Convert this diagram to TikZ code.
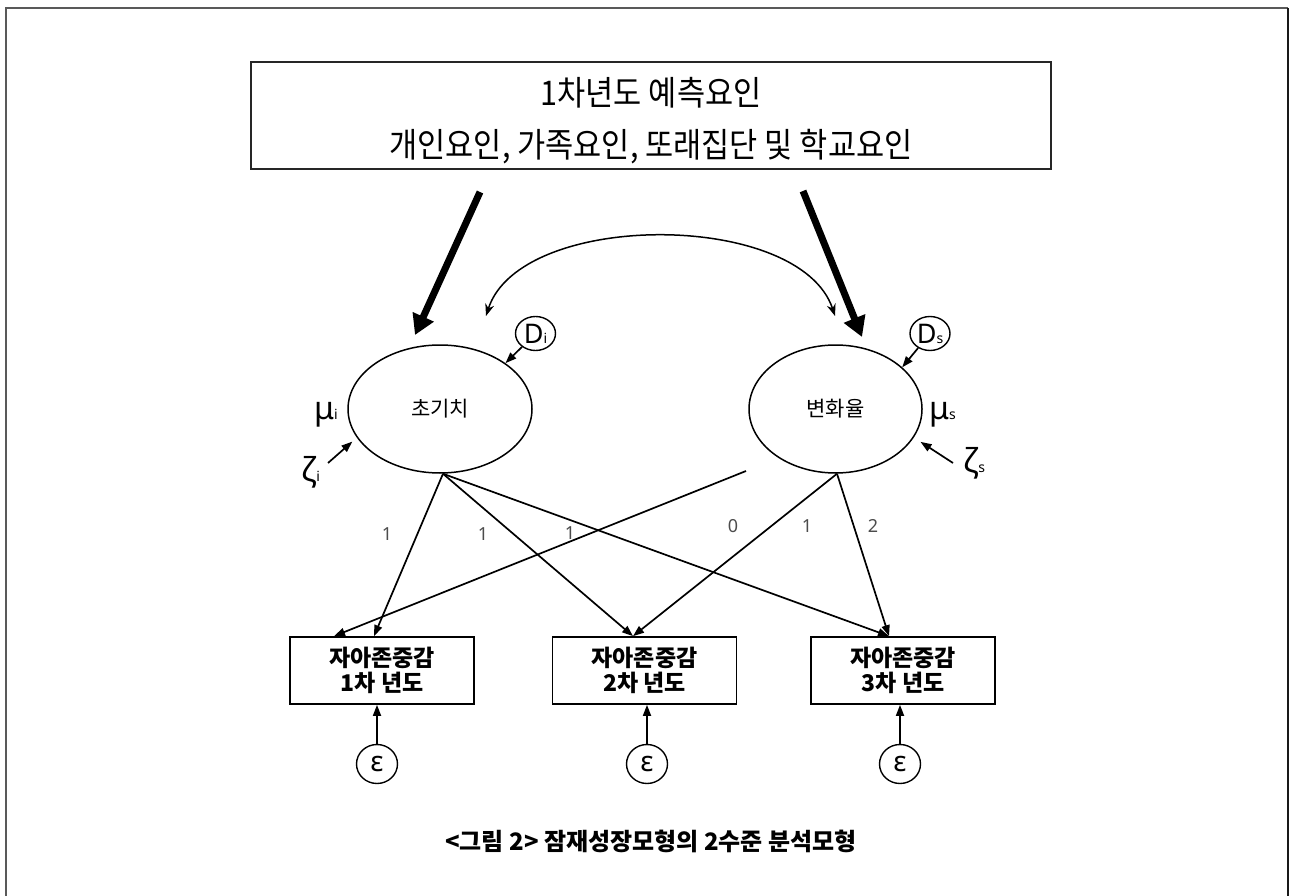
\documentclass[tikz,border=0pt]{standalone}
\usepackage{fontspec}
\setmainfont{Noto Sans CJK KR}
\newfontfamily\grk{Noto Sans}
\newfontfamily\topfont[FakeStretch=0.9]{Noto Sans CJK KR}
\usetikzlibrary{arrows.meta,shapes.geometric}
\begin{document}
\begin{tikzpicture}[x=1pt,y=-1pt,
  conn/.style={line width=1.7pt,-{Triangle[length=11pt,width=8pt]}},
  bigarr/.style={line width=7pt,-{Triangle[length=20pt,width=22pt]}},
  box/.style={draw,line width=1.7pt,minimum width=184pt,minimum height=67pt,inner sep=0pt,align=center,font=\bfseries\fontsize{23}{25}\selectfont},
  latent/.style={draw,ellipse,line width=1.5pt,inner sep=0pt,minimum height=128pt,font=\fontsize{21}{21}\selectfont},
  err/.style={draw,ellipse,line width=1.4pt,inner sep=0pt,minimum width=41pt,minimum height=39pt},
  lab/.style={font=\grk\fontsize{18}{18}\selectfont,text=black!70},
  sym/.style={anchor=base west,inner sep=0pt}
]
\useasboundingbox (0,0) rectangle (1293,896);
\draw[line width=2pt,black!65] (6,896) -- (6,8) -- (1288,8);
\draw[line width=2pt,black!90] (1288,8) -- (1288,896);

% predictor box
\node[draw=black!85,line width=2pt,minimum width=800pt,minimum height=107pt] (pred) at (651,115.5) {};
\node[font=\topfont\fontsize{34}{34}\selectfont] (t1) at (651,93) {1차년도 예측요인};
\node[font=\topfont\fontsize{34}{34}\selectfont] (t2) at (651,147) {개인요인, 가족요인, 또래집단 및 학교요인};

% thick arrows
\coordinate (ba) at (480,192);
\coordinate (bat) at (415,335);
\coordinate (bb) at (803,191);
\coordinate (bbt) at (862,337);
\draw[bigarr] (ba) -- (bat);
\draw[bigarr] (bb) -- (bbt);

% latent ellipses
\node[latent,minimum width=184pt] (ei) at (440,409) {초기치};
\node[latent,minimum width=173pt] (es) at (835.5,409) {변화율};

% covariance
\coordinate (ca) at (486,316);
\coordinate (cb) at (835,316);
\draw[line width=1.5pt,{Stealth[length=12pt,width=9pt]}-{Stealth[length=12pt,width=9pt]}] (ca) .. controls (520,210) and (800,210) .. (cb);

% disturbances
\node[err,minimum width=40pt,minimum height=34pt] (di) at (535.5,333.5) {\grk\fontsize{27}{27}\selectfont D\fontsize{14}{14}\selectfont i};
\node[err,minimum width=40pt,minimum height=34pt] (ds) at (930,333.5) {\grk\fontsize{27}{27}\selectfont D\fontsize{14}{14}\selectfont s};
\draw[conn] (di) -- (ei.35);
\draw[conn] (ds) -- (es.32);

% means and zetas
\node[sym] (mi) at (314,419) {\grk\fontsize{32}{32}\selectfont μ\fontsize{14}{14}\selectfont i};
\node[sym] (ms) at (929,419) {\grk\fontsize{32}{32}\selectfont μ\fontsize{14}{14}\selectfont s};
\node[sym] (zi) at (301,481) {\grk\fontsize{33}{33}\selectfont ζ\fontsize{14}{14}\selectfont i};
\node[sym] (zs) at (963,472) {\grk\fontsize{33}{33}\selectfont ζ\fontsize{14}{14}\selectfont s};
\coordinate (zit) at (328,463);
\coordinate (zst) at (953,463);
\draw[conn,shorten >=6pt] (zit) -- (ei.199);
\draw[conn,shorten >=8pt] (zst) -- (es.-20);

% observed boxes
\node[box] (b1) at (382,670.5) {자아존중감\\1차 년도};
\node[box] (b2) at (644.5,670.5) {자아존중감\\2차 년도};
\node[box] (b3) at (903,670.5) {자아존중감\\3차 년도};

% loadings
\coordinate (ai) at ([xshift=3pt]ei.south);
\coordinate (as) at ([xshift=1.5pt]es.south);
\coordinate (z0) at (746,471);
\draw[conn] (ai) -- ([xshift=-8pt]b1.north);
\draw[conn] (ai) -- ([xshift=-11.5pt]b2.north);
\draw[conn] (ai) -- ([xshift=-14pt]b3.north);
\draw[conn] (z0) -- ([xshift=-48pt]b1.north);
\draw[conn] (as) -- ([xshift=-11.5pt]b2.north);
\draw[conn] (as) -- ([xshift=-14pt]b3.north);

\node[lab] (l1) at (387,534) {1};
\node[lab] (l2) at (483,534) {1};
\node[lab] (l3) at (570,533) {1};
\node[lab] (l4) at (733,526) {0};
\node[lab] (l5) at (807,526) {1};
\node[lab] (l6) at (873,526) {2};

% errors
\node[err] (e1) at (377,764) {\grk\fontsize{28}{28}\selectfont ε};
\node[err] (e2) at (647,764) {\grk\fontsize{28}{28}\selectfont ε};
\node[err] (e3) at (900,764) {\grk\fontsize{28}{28}\selectfont ε};
\draw[conn] (e1.north) -- (e1.north |- b1.south);
\draw[conn] (e2.north) -- (e2.north |- b2.south);
\draw[conn] (e3.north) -- (e3.north |- b3.south);

% caption
\node[font=\bfseries\fontsize{24}{24}\selectfont] (cap) at (651,841) {<그림 2> 잠재성장모형의 2수준 분석모형};
\end{tikzpicture}
\end{document}
